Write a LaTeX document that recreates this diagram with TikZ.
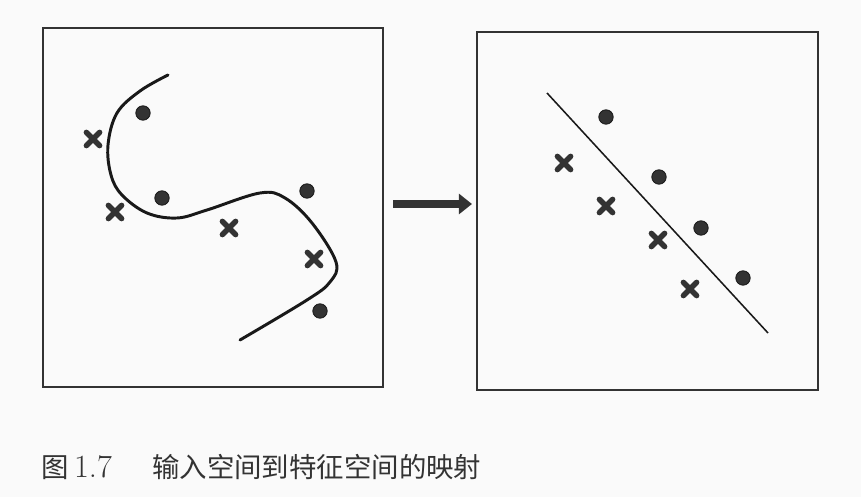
\documentclass[tikz,border=0pt]{standalone}
\usepackage{fontspec}
\newfontfamily\cjk{Noto Sans CJK SC}
\usepackage{tikz}
\usetikzlibrary{shapes.misc, arrows.meta, positioning}
\definecolor{ink}{gray}{0.2}
\tikzstyle{panel} = [rectangle, draw=ink, line width=1.5pt, inner sep=0pt]
\tikzstyle{dot} = [circle, draw=black!90, fill=ink, line width=0.6pt, inner sep=0pt, minimum size=0.36cm]
\tikzstyle{xmark} = [cross out, draw=ink, line width=3.8pt, line cap=round, inner sep=0pt, minimum size=0.2cm]
\tikzstyle{curve} = [draw=black!90, line width=2.1pt, line cap=round]
\tikzstyle{sep} = [draw=black!90, line width=1.1pt]
\tikzstyle{maparrow} = [draw=ink, line width=5pt, -{Triangle[length=0.33cm, width=0.5cm]}]

\begin{document}
\begin{tikzpicture}[x=0.025cm, y=-0.025cm]

\fill[black!2] (0,0) rectangle (861,497);
\useasboundingbox (0,0) rectangle (861,497);

% input space
\node (inbox) [panel, minimum width=8.5cm, minimum height=8.98cm] at (213,207.5) {};
\draw[curve] plot[smooth, tension=0.6] coordinates {(168,75) (140,91) (117,113) (108,145) (111,175) (122,195) (147,213) (177,218) (207,210) (260,193) (285,198) (312,223) (336,262) (330,282) (307,300) (240,340)};

\node (inc1) [dot] at (143,113) {};
\node (inc2) [dot] at (162,198) {};
\node (inc3) [dot] at (307,191) {};
\node (inc4) [dot] at (320,311) {};
\node (inx1) [xmark] at (93,139) {};
\node (inx2) [xmark] at (115,212) {};
\node (inx3) [xmark] at (229,228) {};
\node (inx4) [xmark] at (314,259) {};

% mapping
\coordinate (mapstart) at (393,204);
\coordinate (mapend) at (472,204);
\draw[maparrow] (mapstart) -- (mapend);

% feature space
\node (outbox) [panel, minimum width=8.525cm, minimum height=8.95cm] at (647.5,211) {};
\coordinate (linetop) at (547,93);
\coordinate (linebot) at (768,333);
\draw[sep] (linetop) -- (linebot);

\node (outc1) [dot] at (606,117) {};
\node (outc2) [dot] at (659,177) {};
\node (outc3) [dot] at (701,228) {};
\node (outc4) [dot] at (743,278) {};
\node (outx1) [xmark] at (564,163) {};
\node (outx2) [xmark] at (606,206) {};
\node (outx3) [xmark] at (658,240) {};
\node (outx4) [xmark] at (690,289) {};

% caption
\node (figno) [anchor=base west, inner sep=0pt, text=ink, font=\fontsize{23}{28}\selectfont] at (41,477) {{\fontsize{19.5}{28}\selectfont\cjk 图}\,1.7};
\node (figtitle) [anchor=base west, inner sep=0pt, text=ink, font=\fontsize{19.5}{28}\selectfont\cjk] at (152,477) {输入空间到特征空间的映射};

\end{tikzpicture}
\end{document}
